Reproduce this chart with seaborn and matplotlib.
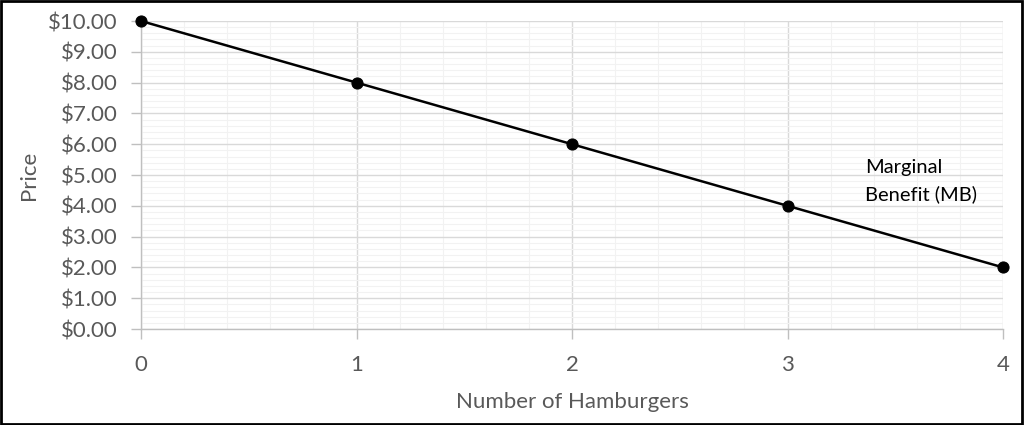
import matplotlib
matplotlib.use("Agg")
import matplotlib.pyplot as plt
import seaborn as sns
import pandas as pd
from matplotlib.ticker import MultipleLocator, FuncFormatter
from matplotlib.patches import Rectangle

quantity = [0, 1, 2, 3, 4]
price = [10.0, 8.0, 6.0, 4.0, 2.0]
x_label = "Number of Hamburgers"
y_label = "Price"
annotation = "Marginal\nBenefit (MB)"

sns.set_theme(style="white")
plt.rcParams['font.family'] = ['Lato', 'DejaVu Sans']

df = pd.DataFrame({"q": quantity, "p": price})

fig = plt.figure(figsize=(10.24, 4.25), dpi=100)
ax = fig.add_axes([141/1024, 1-329/425, (1003-141)/1024, (329-21)/425])

sns.lineplot(data=df, x="q", y="p", ax=ax, color="black", linewidth=1.8,
             marker="o", markersize=8, markeredgecolor="black",
             markerfacecolor="black", zorder=5, clip_on=False)

ax.set_xlim(0, 4)
ax.set_ylim(0, 10)
ax.xaxis.set_major_locator(MultipleLocator(1))
ax.xaxis.set_minor_locator(MultipleLocator(0.2))
ax.yaxis.set_major_locator(MultipleLocator(1))
ax.yaxis.set_minor_locator(MultipleLocator(0.2))
ax.yaxis.set_major_formatter(FuncFormatter(lambda v, p: f"${v:.2f}"))

ax.grid(which="major", color="#d9d9d9", linewidth=1.0)
ax.grid(which="minor", color="#f2f2f2", linewidth=0.8)
ax.set_axisbelow(True)

for s in ["top", "right"]:
    ax.spines[s].set_visible(False)
for s in ["left", "bottom"]:
    ax.spines[s].set_color("#bfbfbf")
    ax.spines[s].set_linewidth(1.0)

ax.tick_params(axis="both", which="major", colors="#bfbfbf", labelcolor="#595959",
               labelsize=16, length=7, width=1.0, direction="out")
ax.tick_params(axis="both", which="minor", length=0)
ax.tick_params(axis="x", pad=12)
ax.tick_params(axis="y", pad=10, left=True)
ax.tick_params(axis="x", bottom=True)

ax.set_xlabel(x_label, fontsize=16, color="#595959", labelpad=12)
ax.set_ylabel(y_label, fontsize=16, color="#595959", labelpad=6)

ax.text(3.36, 4.8, annotation, fontsize=14.5, color="black", ha="left", va="center",
        linespacing=1.6)

fig.patches.append(Rectangle((0.001, 0.002), 0.997, 0.995, transform=fig.transFigure,
                             fill=False, edgecolor="black", linewidth=2))

fig.savefig("out.png", dpi=100, facecolor="white")
